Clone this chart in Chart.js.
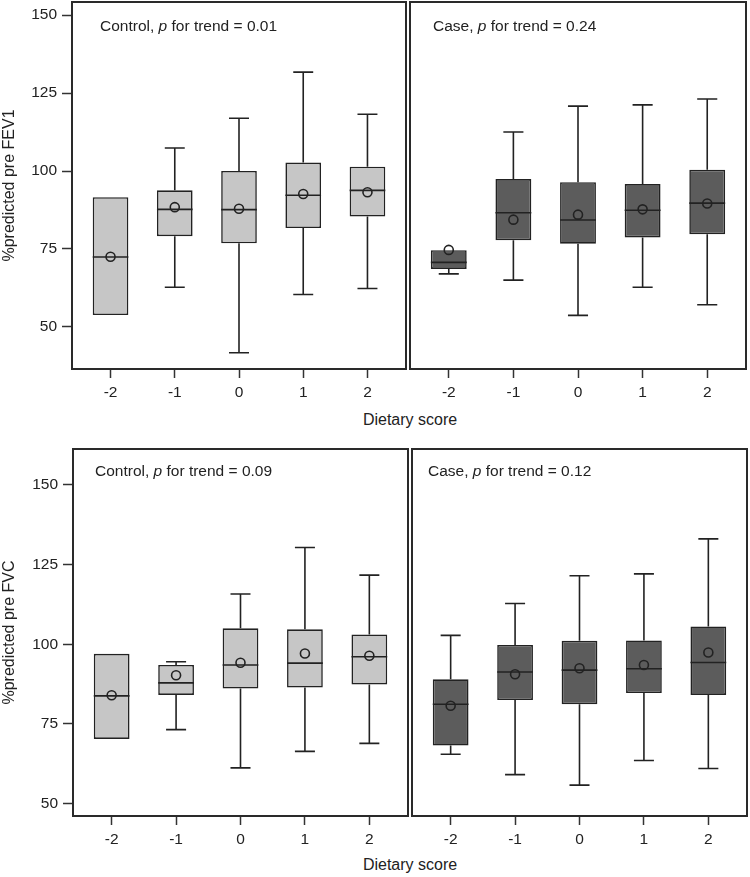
<!DOCTYPE html>
<html>
<head>
<meta charset="utf-8">
<script src="https://cdn.jsdelivr.net/npm/chart.js@4.4.1/dist/chart.umd.min.js"></script>
<style>
  body { margin:0; background:#fff; width:750px; height:877px; position:relative; overflow:hidden;
         font-family:"Liberation Sans", Arial, sans-serif; }
  canvas { position:absolute; }
  .xtitle { position:absolute; width:200px; text-align:center; font-size:16px; line-height:18px; color:#222; }
</style>
</head>
<body>
<canvas id="fev1Ctrl" width="408" height="405" style="left:0;top:0"></canvas>
<canvas id="fev1Case" width="342" height="405" style="left:408px;top:0"></canvas>
<canvas id="fvcCtrl" width="409" height="410" style="left:0;top:440px"></canvas>
<canvas id="fvcCase" width="341" height="410" style="left:409px;top:440px"></canvas>
<div class="xtitle" style="left:310px;top:411px">Dietary score</div>
<div class="xtitle" style="left:310px;top:856px">Dietary score</div>
<script>
// dietary score groups
var scores = [-2, -1, 0, 1, 2];
var yTicks = [50, 75, 100, 125, 150];

// %predicted pre FEV1, controls
var fev1CtrlMin  = [53.8, 62.7, 41.7, 60.4, 62.3];
var fev1CtrlQ1   = [53.8, 79.1, 76.8, 81.7, 85.4];
var fev1CtrlMed  = [72.4, 87.7, 87.6, 92.2, 93.8];
var fev1CtrlQ3   = [91.6, 93.8, 100.0, 102.7, 101.4];
var fev1CtrlMax  = [91.6, 107.4, 116.9, 131.7, 118.2];
var fev1CtrlMean = [72.5, 88.4, 87.9, 92.6, 93.2];

// %predicted pre FEV1, cases
var fev1CaseMin  = [67.0, 65.0, 53.7, 62.7, 57.1];
var fev1CaseQ1   = [68.6, 77.8, 76.7, 78.7, 79.7];
var fev1CaseMed  = [70.7, 86.6, 84.3, 87.4, 89.7];
var fev1CaseQ3   = [74.6, 97.4, 96.4, 95.8, 100.4];
var fev1CaseMax  = [74.6, 112.5, 120.8, 121.2, 123.1];
var fev1CaseMean = [74.7, 84.4, 86.0, 87.7, 89.6];

// %predicted pre FVC, controls
var fvcCtrlMin  = [70.3, 73.2, 61.2, 66.4, 68.9];
var fvcCtrlQ1   = [70.3, 84.1, 86.1, 86.4, 87.4];
var fvcCtrlMed  = [83.8, 87.9, 93.5, 94.1, 96.1];
var fvcCtrlQ3   = [97.0, 93.5, 105.0, 104.7, 103.1];
var fvcCtrlMax  = [97.0, 94.5, 115.8, 130.4, 121.7];
var fvcCtrlMean = [84.0, 90.3, 94.2, 97.1, 96.4];

// %predicted pre FVC, cases
var fvcCaseMin  = [65.5, 59.1, 55.8, 63.5, 61.0];
var fvcCaseQ1   = [68.2, 82.5, 81.2, 84.7, 84.1];
var fvcCaseMed  = [81.2, 91.3, 91.9, 92.3, 94.3];
var fvcCaseQ3   = [89.0, 99.8, 101.1, 101.2, 105.6];
var fvcCaseMax  = [102.8, 112.8, 121.5, 122.1, 133.1];
var fvcCaseMean = [80.7, 90.6, 92.5, 93.5, 97.4];

Chart.defaults.font.family = '"Liberation Sans", Arial, sans-serif';
Chart.defaults.font.size = 15.5;
Chart.defaults.color = '#222';

var FONT = '"Liberation Sans", Arial, sans-serif';

// whiskers + median line, drawn right after the boxes
var boxExtras = {
  id: 'boxExtras',
  afterDatasetDraw: function(chart, args) {
    if (args.meta.type !== 'bar') return;
    var ds = chart.data.datasets[args.index];
    var y = chart.scales.y, ctx = chart.ctx;
    ctx.save();
    ctx.strokeStyle = '#222';
    ctx.lineWidth = 1.6;
    args.meta.data.forEach(function(el, i) {
      var half = el.width / 2, cap = el.width * 0.28;
      var yq1 = y.getPixelForValue(ds.q1[i]), yq3 = y.getPixelForValue(ds.q3[i]);
      var ymin = y.getPixelForValue(ds.min[i]), ymax = y.getPixelForValue(ds.max[i]);
      var ymed = y.getPixelForValue(ds.median[i]);
      ctx.beginPath();
      if (ds.max[i] > ds.q3[i]) {
        ctx.moveTo(el.x, yq3); ctx.lineTo(el.x, ymax);
        ctx.moveTo(el.x - cap, ymax); ctx.lineTo(el.x + cap, ymax);
      }
      if (ds.min[i] < ds.q1[i]) {
        ctx.moveTo(el.x, yq1); ctx.lineTo(el.x, ymin);
        ctx.moveTo(el.x - cap, ymin); ctx.lineTo(el.x + cap, ymin);
      }
      ctx.moveTo(el.x - half, ymed); ctx.lineTo(el.x + half, ymed);
      ctx.stroke();
    });
    ctx.restore();
  }
};

// panel frame and "Group, p for trend = x" label
var panelFrame = {
  id: 'panelFrame',
  afterDraw: function(chart, args, opts) {
    var ctx = chart.ctx, a = chart.chartArea;
    ctx.save();
    ctx.strokeStyle = '#2a2a2a';
    ctx.lineWidth = 2;
    ctx.strokeRect(a.left, a.top, a.width, a.height);
    var parts = [[opts.group + ', ', ''], ['p', 'italic '], [' for trend = ' + opts.p, '']];
    var x = a.left + opts.dx, yy = a.top + opts.dy;
    ctx.fillStyle = '#222';
    ctx.textBaseline = 'middle';
    parts.forEach(function(p) {
      ctx.font = p[1] + '15.5px ' + FONT;
      ctx.fillText(p[0], x, yy);
      x += ctx.measureText(p[0]).width;
    });
    ctx.restore();
  }
};

function noPad(s) {
  s.paddingTop = 0; s.paddingBottom = 0; s.paddingLeft = 0; s.paddingRight = 0;
}

function boxPanel(id, d, o) {
  var cnv = document.getElementById(id);
  return new Chart(cnv, {
    type: 'bar',
    data: {
      datasets: [
        {
          type: 'scatter',
          data: scores.map(function(s, i) { return {x: s, y: d.mean[i]}; }),
          pointStyle: 'circle',
          pointRadius: 4.5,
          borderColor: '#222',
          borderWidth: 1.6,
          backgroundColor: 'rgba(0,0,0,0)'
        },
        {
          type: 'bar',
          data: scores.map(function(s, i) { return {x: s, y: [d.q1[i], d.q3[i]]}; }),
          q1: d.q1, q3: d.q3, min: d.min, max: d.max, median: d.med,
          backgroundColor: o.fill,
          borderColor: '#222',
          borderWidth: 1.6,
          borderSkipped: false,
          barPercentage: 0.555,
          categoryPercentage: 1
        }
      ]
    },
    options: {
      responsive: false,
      animation: false,
      devicePixelRatio: 1,
      layout: { padding: o.pad, autoPadding: false },
      plugins: {
        legend: { display: false },
        tooltip: { enabled: false },
        panelFrame: { group: o.group, p: o.p, dx: o.dx, dy: o.dy }
      },
      scales: {
        x: {
          type: 'linear',
          min: -2.6, max: 2.6,
          offset: false,
          afterBuildTicks: function(s) { s.ticks = scores.map(function(v) { return {value: v}; }); },
          afterFit: function(s) { s.height = o.xh; noPad(s); },
          grid: { offset: false, drawOnChartArea: false, tickLength: 9, tickColor: '#333', tickWidth: 1.5 },
          border: { display: false },
          ticks: { padding: 5, maxRotation: 0, color: '#222' }
        },
        y: {
          display: o.showY,
          min: o.ymin, max: o.ymax,
          beginAtZero: false,
          afterBuildTicks: function(s) { s.ticks = yTicks.map(function(v) { return {value: v}; }); },
          afterFit: function(s) { s.width = o.yw; noPad(s); },
          grid: { drawOnChartArea: false, tickLength: 10, tickColor: '#333', tickWidth: 1.5 },
          border: { display: false },
          ticks: { padding: 5, color: '#222' },
          title: { display: true, text: o.yTitle, padding: 0, color: '#222', font: { size: 16 } }
        }
      }
    },
    plugins: [boxExtras, panelFrame]
  });
}

var LIGHT = '#c6c6c6', DARK = '#5c5c5c';

boxPanel('fev1Ctrl',
  {min: fev1CtrlMin, q1: fev1CtrlQ1, med: fev1CtrlMed, q3: fev1CtrlQ3, max: fev1CtrlMax, mean: fev1CtrlMean},
  {fill: LIGHT, group: 'Control', p: '0.01', dx: 28, dy: 25, showY: true, yw: 72, xh: 36,
   ymin: 36.5, ymax: 154.2, yTitle: '%predicted pre FEV1', pad: {top: 2, right: 2, left: 0, bottom: 0}});

boxPanel('fev1Case',
  {min: fev1CaseMin, q1: fev1CaseQ1, med: fev1CaseMed, q3: fev1CaseQ3, max: fev1CaseMax, mean: fev1CaseMean},
  {fill: DARK, group: 'Case', p: '0.24', dx: 23, dy: 25, showY: false, yw: 0, xh: 36,
   ymin: 36.5, ymax: 154.2, yTitle: '', pad: {top: 2, right: 4, left: 2, bottom: 0}});

boxPanel('fvcCtrl',
  {min: fvcCtrlMin, q1: fvcCtrlQ1, med: fvcCtrlMed, q3: fvcCtrlQ3, max: fvcCtrlMax, mean: fvcCtrlMean},
  {fill: LIGHT, group: 'Control', p: '0.09', dx: 22, dy: 23, showY: true, yw: 73, xh: 34,
   ymin: 46.1, ymax: 161.3, yTitle: '%predicted pre FVC', pad: {top: 9, right: 1, left: 0, bottom: 0}});

boxPanel('fvcCase',
  {min: fvcCaseMin, q1: fvcCaseQ1, med: fvcCaseMed, q3: fvcCaseQ3, max: fvcCaseMax, mean: fvcCaseMean},
  {fill: DARK, group: 'Case', p: '0.12', dx: 16, dy: 23, showY: false, yw: 0, xh: 34,
   ymin: 46.1, ymax: 161.3, yTitle: '', pad: {top: 9, right: 3, left: 3, bottom: 0}});
</script>
</body>
</html>
